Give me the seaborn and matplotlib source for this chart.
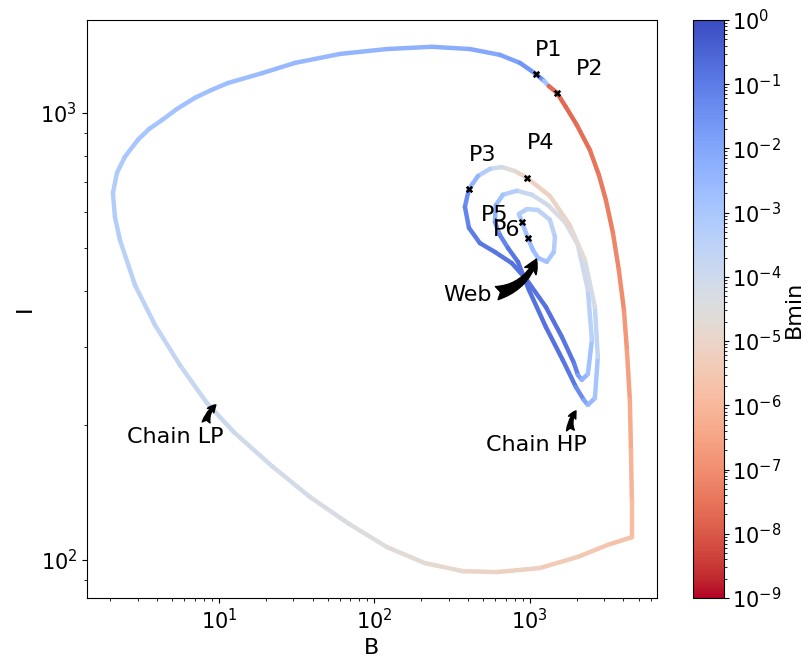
import numpy as np
import matplotlib
matplotlib.use("Agg")
import matplotlib.pyplot as plt
import seaborn as sns
from matplotlib.collections import LineCollection
from matplotlib.colors import LogNorm

# ---------------- data ----------------
# Chain LP orbit: log10(B), log10(I), log10(Bmin)
lp_logB = [3.174, 3.232, 3.302, 3.386, 3.444, 3.489, 3.534, 3.572, 3.605, 3.624,
           3.643, 3.650, 3.656, 3.656, 3.502, 3.309, 3.064, 2.788, 2.569, 2.325,
           2.080, 1.836, 1.585, 1.341, 1.096, 0.923, 0.749, 0.588, 0.460, 0.363,
           0.331, 0.318, 0.344, 0.395, 0.479, 0.550, 0.633, 0.730, 0.846, 0.949,
           1.058, 1.277, 1.489, 1.778, 2.080, 2.370, 2.614, 2.807, 2.936, 3.039,
           3.090, 3.122, 3.174]
lp_logI = [3.045, 3.013, 2.973, 2.917, 2.861, 2.805, 2.732, 2.649, 2.559, 2.470,
           2.358, 2.246, 2.134, 2.051, 2.034, 2.007, 1.982, 1.973, 1.975, 1.993,
           2.029, 2.081, 2.141, 2.210, 2.286, 2.351, 2.436, 2.526, 2.615, 2.716,
           2.767, 2.821, 2.866, 2.902, 2.940, 2.964, 2.984, 3.009, 3.034, 3.051,
           3.067, 3.089, 3.112, 3.132, 3.143, 3.148, 3.143, 3.130, 3.112, 3.087,
           3.072, 3.060, 3.045]
lp_logBmin = [-7.7, -7.7, -7.6, -7.5, -7.4, -7.3, -7.15, -7.0, -6.8, -6.6,
              -6.35, -6.1, -5.9, -5.7, -5.55, -5.4, -5.2, -5.0, -4.85, -4.7,
              -4.5, -4.35, -4.2, -4.05, -3.9, -3.8, -3.7, -3.55, -3.4, -3.3,
              -3.25, -3.2, -3.1, -3.0, -2.95, -2.9, -2.85, -2.8, -2.75, -2.7,
              -2.65, -2.55, -2.5, -2.4, -2.3, -2.2, -2.05, -1.85, -1.6, -1.4,
              -2.8, -7.7, -7.7]

# Chain HP (period-doubled) orbit
hp_logB = [2.608, 2.582, 2.608, 2.678, 2.775, 2.884, 2.981, 3.103, 3.206, 3.283,
           3.309, 3.334, 3.373, 3.399, 3.373, 3.309, 3.225, 3.116, 3.013, 2.916,
           2.826, 2.781, 2.775, 2.807, 2.859, 2.923, 2.994, 3.103, 3.212, 3.296,
           3.347, 3.373, 3.418, 3.437, 3.418, 3.354, 3.257, 3.129, 2.981, 2.904,
           2.820, 2.743, 2.666, 2.608]
hp_logI = [2.830, 2.790, 2.743, 2.709, 2.689, 2.664, 2.626, 2.566, 2.499, 2.441,
           2.414, 2.403, 2.416, 2.492, 2.604, 2.705, 2.756, 2.794, 2.817, 2.826,
           2.817, 2.794, 2.756, 2.727, 2.698, 2.667, 2.604, 2.521, 2.447, 2.387,
           2.358, 2.347, 2.362, 2.454, 2.566, 2.671, 2.749, 2.814, 2.855, 2.870,
           2.879, 2.875, 2.859, 2.830]
hp_logBmin = [-1.4, -1.2, -1.0, -0.9, -0.85, -0.8, -0.8, -0.8, -0.85, -1.1,
              -1.8, -2.4, -2.8, -3.4, -4.0, -4.3, -4.3, -4.1, -3.8, -3.3,
              -2.8, -2.3, -1.7, -1.2, -0.9, -0.8, -0.8, -0.8, -0.9, -1.4,
              -2.0, -2.5, -2.9, -3.6, -4.2, -4.7, -5.0, -5.1, -5.0, -4.6,
              -4.0, -3.2, -2.4, -1.4]

# Web orbit
web_logB = [2.949, 2.929, 2.981, 3.051, 3.129, 3.161, 3.154, 3.109, 3.051, 3.019, 2.987, 2.949]
web_logI = [2.756, 2.774, 2.785, 2.783, 2.761, 2.723, 2.689, 2.667, 2.676, 2.694, 2.720, 2.756]
web_logBmin = [-3.0, -3.2, -3.4, -3.5, -3.45, -3.3, -3.0, -2.8, -2.7, -2.6, -2.8, -3.0]

# marked points
pt_names = ["P1", "P2", "P3", "P4", "P5", "P6"]
pt_logB = [3.039, 3.174, 2.608, 2.981, 2.949, 2.987]
pt_logI = [3.087, 3.045, 2.830, 2.855, 2.756, 2.720]
pt_lab_logB = [3.122, 3.386, 2.698, 3.071, 2.775, 2.852]
pt_lab_logI = [3.141, 3.098, 2.906, 2.933, 2.772, 2.738]

# annotations: text, (text logB, logI), (tip logB, logI)
ann_text = ["Chain LP", "Chain HP", "Web"]
ann_text_logB = [0.717, 3.039, 2.601]
ann_text_logI = [2.275, 2.257, 2.593]
ann_tip_logB = [0.987, 3.302, 3.045]
ann_tip_logI = [2.349, 2.336, 2.676]

# ---------------- plotting ----------------
sns.set_theme(style="ticks")
plt.rcParams.update({
    "font.family": ["DejaVu Sans"],
    "text.color": "black", "axes.labelcolor": "black",
    "xtick.major.size": 3.5, "ytick.major.size": 3.5,
    "xtick.minor.size": 2.0, "ytick.minor.size": 2.0,
    "xtick.major.width": 0.8, "ytick.major.width": 0.8,
    "xtick.minor.width": 0.6, "ytick.minor.width": 0.6,
    "axes.edgecolor": "black", "xtick.color": "black", "ytick.color": "black",
    "axes.linewidth": 0.8,
})

fig = plt.figure(figsize=(8.09, 6.57), dpi=100)
ax = fig.add_axes([0.1075, 0.0898, 0.7045, 0.8798])
cax = fig.add_axes([0.8566, 0.0898, 0.0383, 0.8798])

ax.set_xscale("log")
ax.set_yscale("log")
ax.set_xlim(10 ** 0.151, 10 ** 3.817)
ax.set_ylim(10 ** 1.915, 10 ** 3.208)

norm = LogNorm(vmin=1e-9, vmax=1.0)
cmap = "coolwarm_r"


def add_curve(lb, li, lc):
    B = 10 ** np.asarray(lb)
    I = 10 ** np.asarray(li)
    bmin = 10 ** np.asarray(lc)
    pts = np.column_stack([B, I]).reshape(-1, 1, 2)
    segs = np.concatenate([pts[:-1], pts[1:]], axis=1)
    coll = LineCollection(segs, cmap=cmap, norm=norm, linewidths=3.2,
                          capstyle="round", joinstyle="round", zorder=2)
    coll.set_array(bmin[:-1])
    ax.add_collection(coll)
    return coll


coll = add_curve(lp_logB, lp_logI, lp_logBmin)
add_curve(hp_logB, hp_logI, hp_logBmin)
add_curve(web_logB, web_logI, web_logBmin)

sns.scatterplot(x=10 ** np.asarray(pt_logB), y=10 ** np.asarray(pt_logI), ax=ax,
                marker="X", color="black", s=28, linewidth=0, zorder=5, legend=False)

for name, xb, yi in zip(pt_names, pt_lab_logB, pt_lab_logI):
    ax.text(10 ** xb, 10 ** yi, name, fontsize=16, ha="center", va="center", zorder=6)

relpos = [(0.82, 1.0), (0.85, 1.0), (1.0, 0.55)]
mscale = [14, 14, 24]
rads = [-0.25, -0.25, 0.3]
for t, tx, ty, hx, hy, rp, ms, rd in zip(ann_text, ann_text_logB, ann_text_logI,
                                         ann_tip_logB, ann_tip_logI, relpos, mscale, rads):
    ax.annotate(t, xy=(10 ** hx, 10 ** hy), xytext=(10 ** tx, 10 ** ty),
                fontsize=16, ha="center", va="center", zorder=6,
                arrowprops=dict(arrowstyle="fancy", color="black", relpos=rp,
                                mutation_scale=ms, shrinkA=1, shrinkB=1,
                                connectionstyle=f"arc3,rad={rd}"))

ax.set_xlabel("B", fontsize=16)
ax.set_ylabel("I", fontsize=16)
ax.tick_params(axis="both", which="major", labelsize=15)

cb = fig.colorbar(coll, cax=cax)
cb.set_label("Bmin", fontsize=16, labelpad=2)
cb.ax.tick_params(labelsize=15, pad=2)
cb.outline.set_edgecolor("black")

fig.savefig("out.png", dpi=100)
